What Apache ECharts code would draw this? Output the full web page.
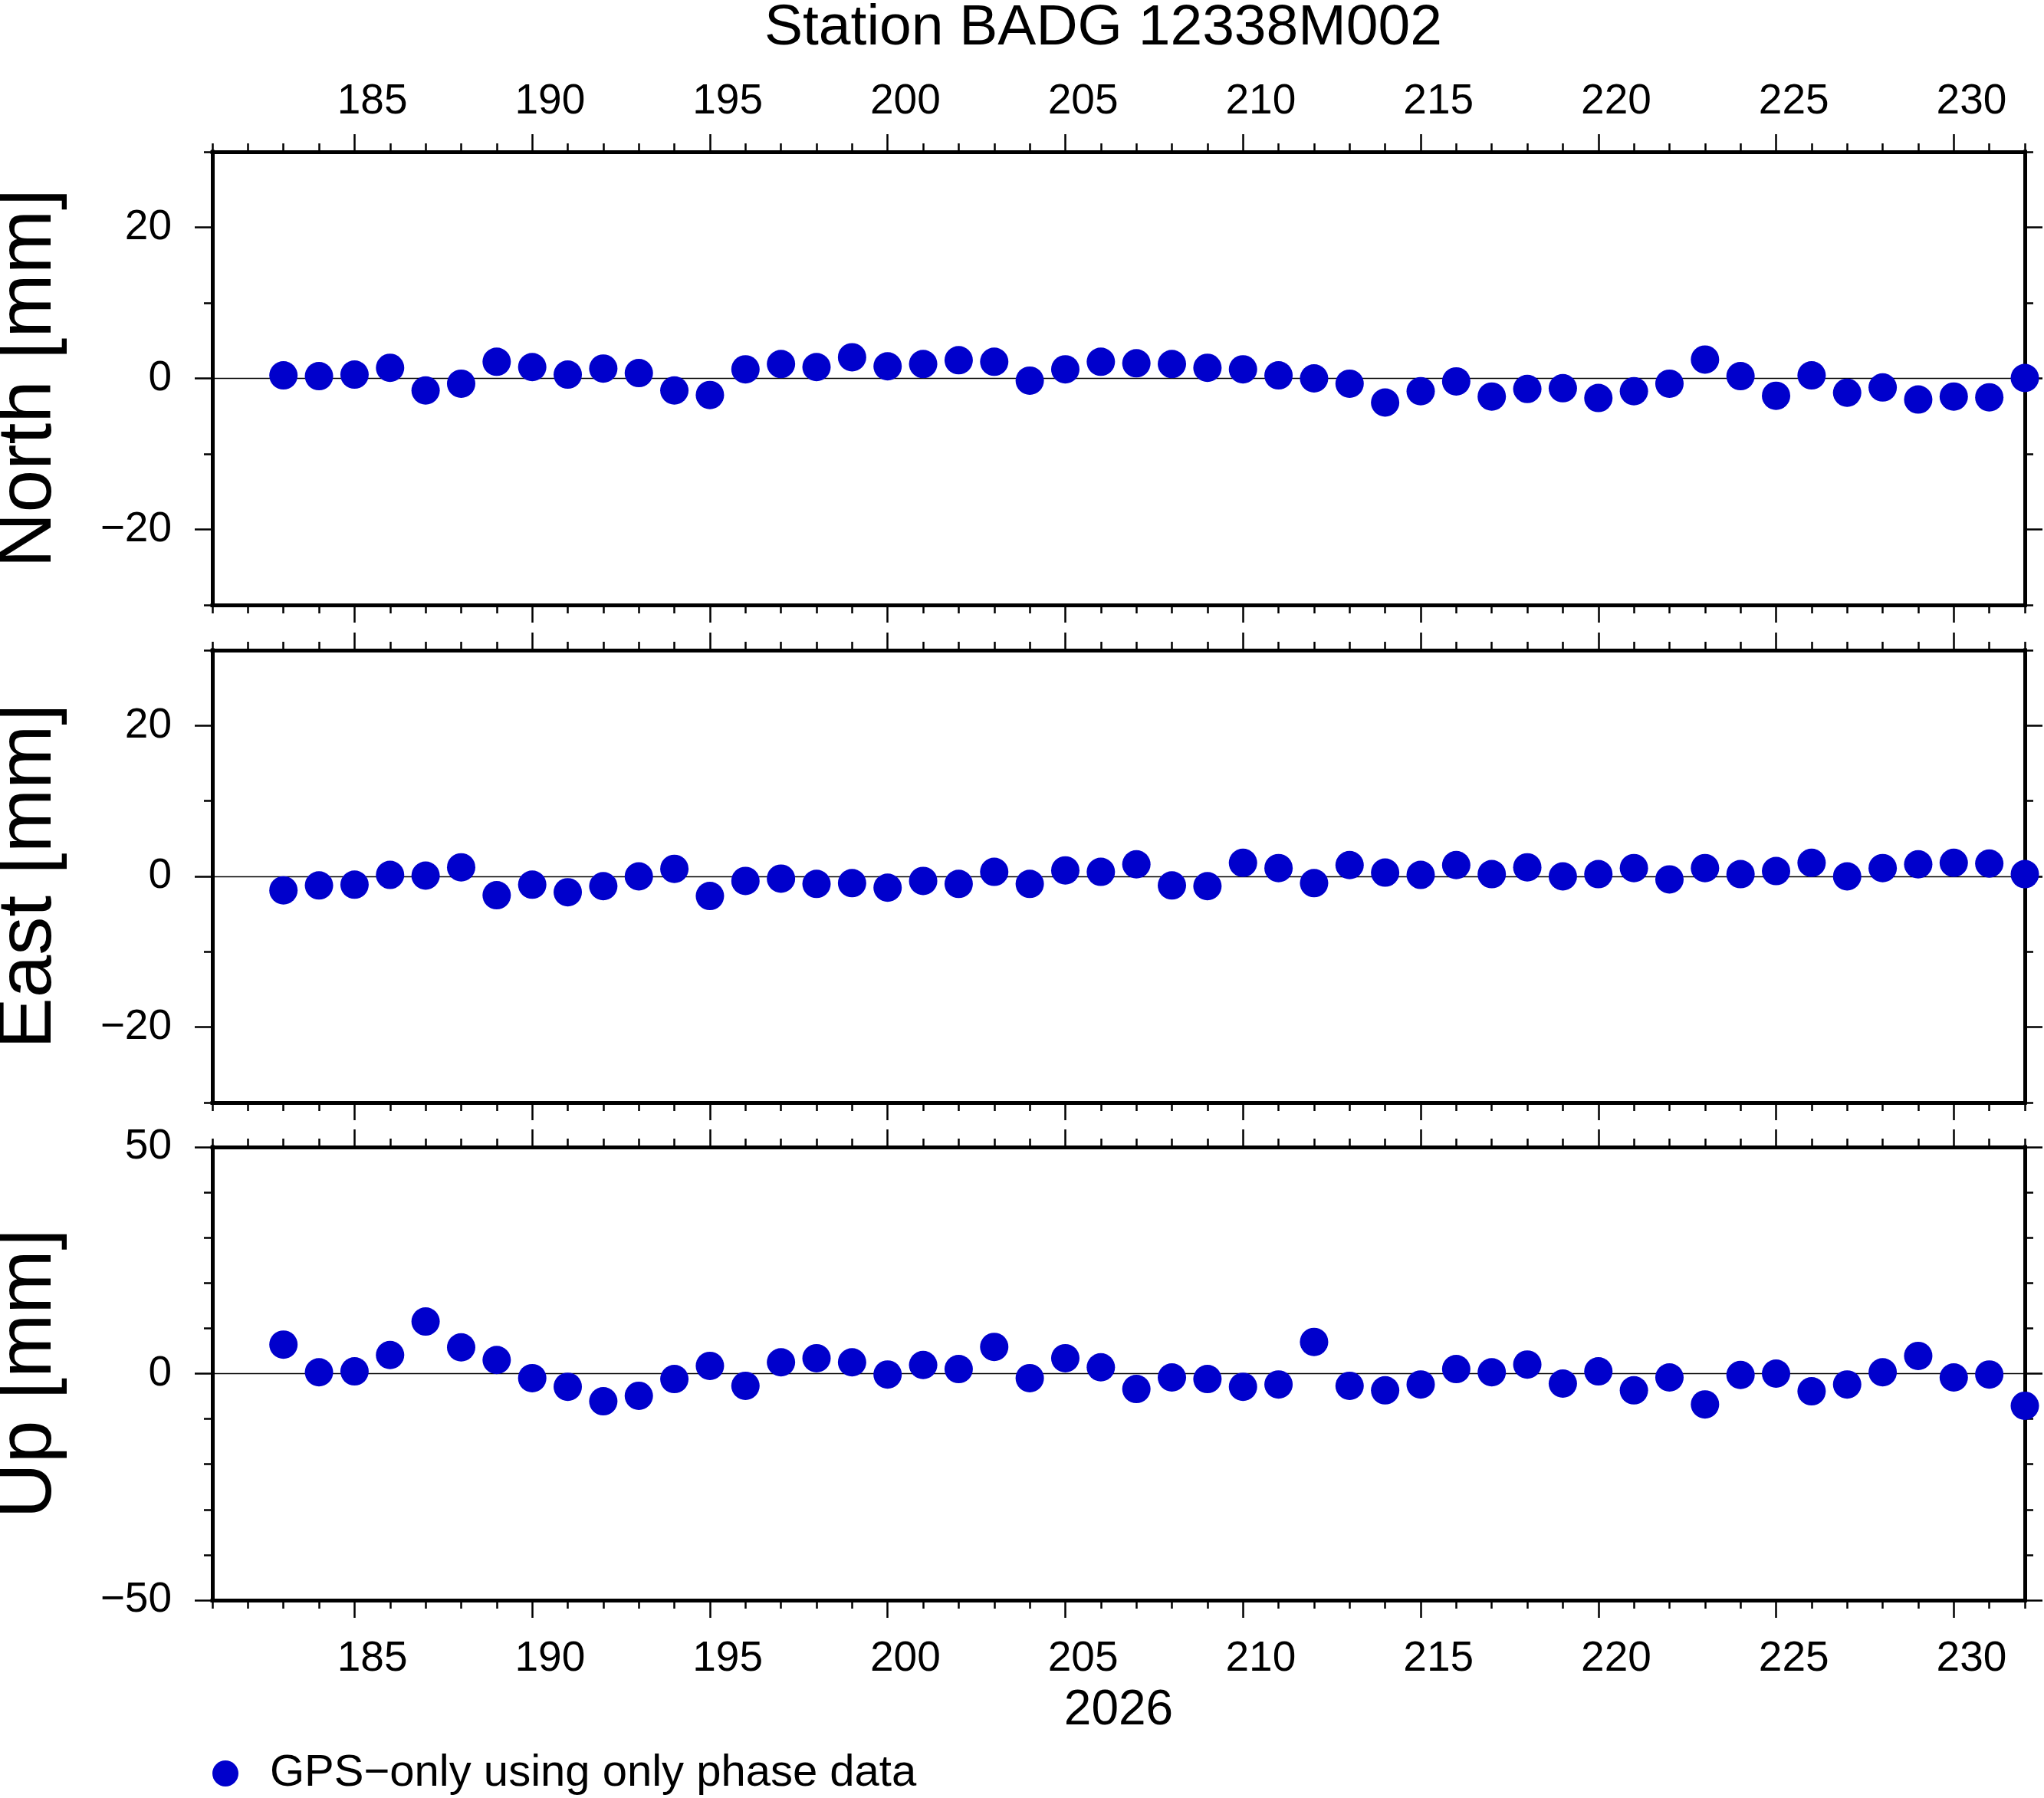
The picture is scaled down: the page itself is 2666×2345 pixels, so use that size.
<!DOCTYPE html>
<html>
<head>
<meta charset="utf-8">
<title>Station BADG 12338M002</title>
<script src="https://cdn.jsdelivr.net/npm/echarts@6/dist/echarts.min.js"></script>
<style>
  html, body { margin: 0; padding: 0; background: #fff; }
  #chart { width: 2666px; height: 2345px; }
</style>
</head>
<body>
<div id="chart"></div>
<script>
// day of year 2026
const days = [183, 184, 185, 186, 187, 188, 189, 190, 191, 192,
  193, 194, 195, 196, 197, 198, 199, 200, 201, 202,
  203, 204, 205, 206, 207, 208, 209, 210, 211, 212,
  213, 214, 215, 216, 217, 218, 219, 220, 221, 222,
  223, 224, 225, 226, 227, 228, 229, 230, 231, 232];

const north = [0.4, 0.3, 0.5, 1.4, -1.6, -0.7, 2.2, 1.5, 0.5, 1.3,
  0.7, -1.6, -2.2, 1.2, 1.9, 1.5, 2.8, 1.6, 1.9, 2.4,
  2.2, -0.3, 1.2, 2.2, 2.0, 1.9, 1.4, 1.2, 0.4, 0.0,
  -0.7, -3.2, -1.7, -0.4, -2.4, -1.4, -1.3, -2.6, -1.7, -0.7,
  2.5, 0.3, -2.3, 0.4, -1.9, -1.2, -2.8, -2.4, -2.5, 0.05];

const east = [-1.85, -1.2, -1.1, 0.2, 0.1, 1.2, -2.5, -1.1, -2.1, -1.3,
  0.0, 1.0, -2.6, -0.6, -0.3, -1.0, -0.9, -1.5, -0.6, -1.0,
  0.6, -1.0, 0.8, 0.6, 1.6, -1.2, -1.3, 1.8, 1.1, -0.9,
  1.5, 0.5, 0.2, 1.5, 0.3, 1.2, 0.0, 0.3, 1.1, -0.4,
  1.1, 0.3, 0.7, 1.8, 0.0, 1.1, 1.6, 1.8, 1.7, 0.3];

const up = [6.4, 0.3, 0.5, 4.1, 11.5, 5.8, 3.0, -1.0, -2.9, -6.1,
  -4.9, -1.2, 1.7, -2.7, 2.5, 3.4, 2.5, -0.2, 1.9, 1.0,
  5.9, -1.0, 3.4, 1.4, -3.4, -0.85, -1.2, -2.9, -2.4, 7.0,
  -2.7, -3.7, -2.4, 1.0, 0.3, 2.0, -2.2, 0.5, -3.7, -0.85,
  -6.8, -0.3, 0.0, -3.9, -2.4, 0.3, 3.9, -0.85, -0.2, -7.1];

const dayTicks = [185, 190, 195, 200, 205, 210, 215, 220, 225, 230];
const neTicks = [-20, 0, 20];
const upTicks = [-50, 0, 50];
const panelNames = ['North [mm]', 'East [mm]', 'Up [mm]'];
const seriesName = 'GPS\u2212only using only phase data';
const yearLabel = '2026';

const FONT = '"Liberation Sans", Helvetica, Arial, sans-serif';
const BLUE = '#0000cc';
const frameLine = { color: '#000', width: 5, cap: 'square' };
const tickLine = { color: '#000', width: 2.5 };
const labelStyle = { color: '#000', fontSize: 55, fontFamily: FONT };

const panels = [
  { values: north, min: -30, max: 30, majors: neTicks, top: 198, height: 591 },
  { values: east, min: -30, max: 30, majors: neTicks, top: 848, height: 590 },
  { values: up, min: -50, max: 50, majors: upTicks, top: 1496, height: 591 }
];

const minus = v => String(v).replace('-', '\u2212');

const grids = [];
const xAxes = [];
const yAxes = [];
const series = [];

panels.forEach((p, i) => {
  grids.push({
    left: 277, right: 25, top: p.top, height: p.height,
    containLabel: false, outerBoundsMode: 'none'
  });

  ['top', 'bottom'].forEach(pos => {
    const withLabels = (pos === 'top' && i === 0) || (pos === 'bottom' && i === 2);
    // minor day ticks + frame line
    xAxes.push({
      type: 'value', gridIndex: i, position: pos, min: 181, max: 232, interval: 1,
      axisLine: { show: true, onZero: false, lineStyle: frameLine },
      axisTick: { show: true, inside: false, length: 11, lineStyle: tickLine },
      axisLabel: { show: false },
      splitLine: { show: false }
    });
    // major ticks every 5 days, labels centred on the day
    const major = {
      type: 'value', gridIndex: i, position: pos, min: 181, max: 232,
      axisLine: { show: false, onZero: false },
      axisTick: { show: true, inside: false, length: 23, customValues: dayTicks, lineStyle: tickLine },
      axisLabel: Object.assign({
        show: withLabels,
        customValues: dayTicks.map(d => d + 0.5),
        formatter: v => String(Math.floor(v)),
        margin: pos === 'top' ? 38 : 49
      }, labelStyle),
      splitLine: { show: false }
    };
    if (pos === 'bottom' && i === 2) {
      major.name = yearLabel;
      major.nameLocation = 'middle';
      major.nameGap = 112;
      major.nameTextStyle = { color: '#000', fontSize: 64, fontFamily: FONT };
    }
    xAxes.push(major);
  });

  ['left', 'right'].forEach(pos => {
    yAxes.push({
      type: 'value', gridIndex: i, position: pos, min: p.min, max: p.max, interval: 10,
      axisLine: { show: true, onZero: false, lineStyle: frameLine },
      axisTick: { show: true, inside: false, length: 11, lineStyle: tickLine },
      axisLabel: { show: false },
      splitLine: { show: false }
    });
    const major = {
      type: 'value', gridIndex: i, position: pos, min: p.min, max: p.max,
      axisLine: { show: false, onZero: false },
      axisTick: { show: true, inside: false, length: 23, customValues: p.majors, lineStyle: tickLine },
      axisLabel: Object.assign({
        show: pos === 'left',
        customValues: p.majors,
        formatter: minus,
        margin: 53
      }, labelStyle),
      splitLine: { show: false }
    };
    if (pos === 'left') {
      major.name = panelNames[i];
      major.nameLocation = 'middle';
      major.nameRotate = 90;
      major.nameGap = 189;
      major.nameTextStyle = { color: '#000', fontSize: 100, fontFamily: FONT };
    }
    yAxes.push(major);
  });

  series.push({
    type: 'scatter',
    name: seriesName,
    xAxisIndex: 4 * i,
    yAxisIndex: 4 * i,
    data: days.map((d, k) => [d, p.values[k]]),
    symbol: 'circle',
    symbolSize: 37,
    itemStyle: { color: BLUE, opacity: 1 },
    clip: false,
    z: 3,
    markLine: {
      silent: true,
      symbol: 'none',
      z: 1,
      label: { show: false },
      lineStyle: { color: '#000', width: 1.3, type: 'solid' },
      emphasis: { disabled: true },
      data: [{ yAxis: 0 }]
    }
  });
});

const chart = echarts.init(document.getElementById('chart'));
chart.setOption({
  animation: false,
  backgroundColor: '#fff',
  textStyle: { fontFamily: FONT },
  title: {
    text: 'Station BADG 12338M002',
    left: 997,
    top: 0,
    padding: 0,
    textStyle: { color: '#000', fontSize: 75, fontWeight: 'normal', fontFamily: FONT }
  },
  legend: {
    left: 272,
    top: 2279,
    icon: 'circle',
    itemWidth: 106,
    itemHeight: 34,
    selectedMode: false,
    textStyle: { color: '#000', fontSize: 58, fontFamily: FONT },
    data: [seriesName]
  },
  grid: grids,
  xAxis: xAxes,
  yAxis: yAxes,
  series: series
});
</script>
</body>
</html>
